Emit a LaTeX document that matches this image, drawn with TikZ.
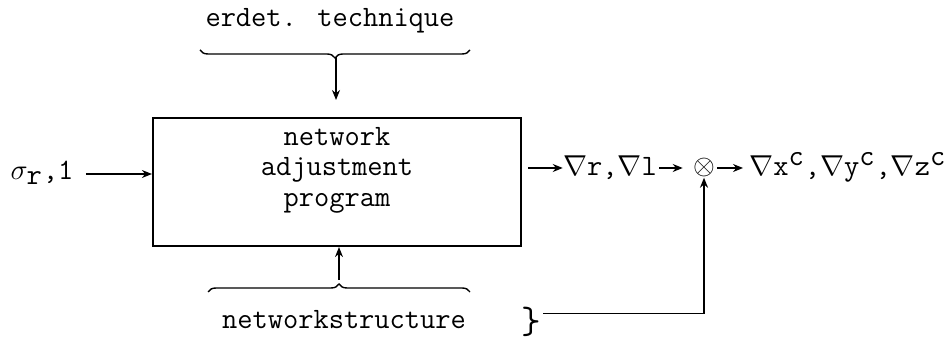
\documentclass[tikz,border=0pt]{standalone}
\usepackage{fontspec}
\usetikzlibrary{arrows.meta,decorations.pathreplacing}
\begin{document}
\begin{tikzpicture}[x=0.5pt,y=-0.5pt,
  txt/.style={font=\fontsize{14.8}{15}\selectfont\ttfamily, inner sep=0pt},
  arr/.style={-{Stealth[length=5pt,width=4pt]}, line width=0.6pt},
  brc/.style={decorate, decoration={brace, amplitude=4pt}, line width=0.7pt}]
\useasboundingbox (0,0) rectangle (952,340);
\node[draw, line width=1.1pt, minimum width=184pt, minimum height=64pt, inner sep=0pt] (box) at (337,182) {};
\node[txt, align=center] (boxtxt) at (337,170) {network\\[0.3pt]adjustment\\[0.3pt]program};
\node[txt, anchor=base] (sig) at (42,180) {$\sigma_{\texttt{r}}$,1};
\node[txt, anchor=base] (top) at (330,27) {erdet. technique};
\node[txt, anchor=base] (bot) at (344,329) {networkstructure};
\node[txt, anchor=base] (grad) at (610,176) {$\nabla$r,$\nabla$l};
\node[inner sep=0pt] (ot) at (704,168) {\scalebox{1.4}{$\otimes$}};
\node[txt, anchor=base west] (out) at (749,176) {$\nabla$x$^{\texttt{c}}$,$\nabla$y$^{\texttt{c}}$,$\nabla$z$^{\texttt{c}}$};
\node[inner sep=0pt, anchor=base] (rb) at (531,334) {\fontsize{19}{19}\selectfont\ttfamily\}};
\coordinate (tb1) at (200,50);
\coordinate (tb2) at (470,50);
\coordinate (tt) at (336,57);
\coordinate (te) at (336,100);
\coordinate (bb1) at (208,292);
\coordinate (bb2) at (470,292);
\coordinate (bt) at (339,280);
\draw[brc] (tb2) -- (tb1);
\draw[brc] (bb1) -- (bb2);
\draw[arr] (tt) -- (te);
\draw[arr] (bt) -- (box.south -| bt);
\draw[arr] ([xshift=6pt]sig.east |- box.west) ++(0,-8) -- ([yshift=4pt]box.west);
\draw[arr, shorten <=3pt] (box.east |- ot) -- (grad.west |- ot);
\draw[arr, shorten >=5pt] (grad.east |- ot) ++(2,0) -- (ot.west);
\draw[arr, shorten <=1pt, shorten >=3pt] (ot.east) -- (out.west |- ot);
\draw[arr, line width=0.8pt] (rb.east) ++(2,-9) -| (ot.south);
\end{tikzpicture}
\end{document}
